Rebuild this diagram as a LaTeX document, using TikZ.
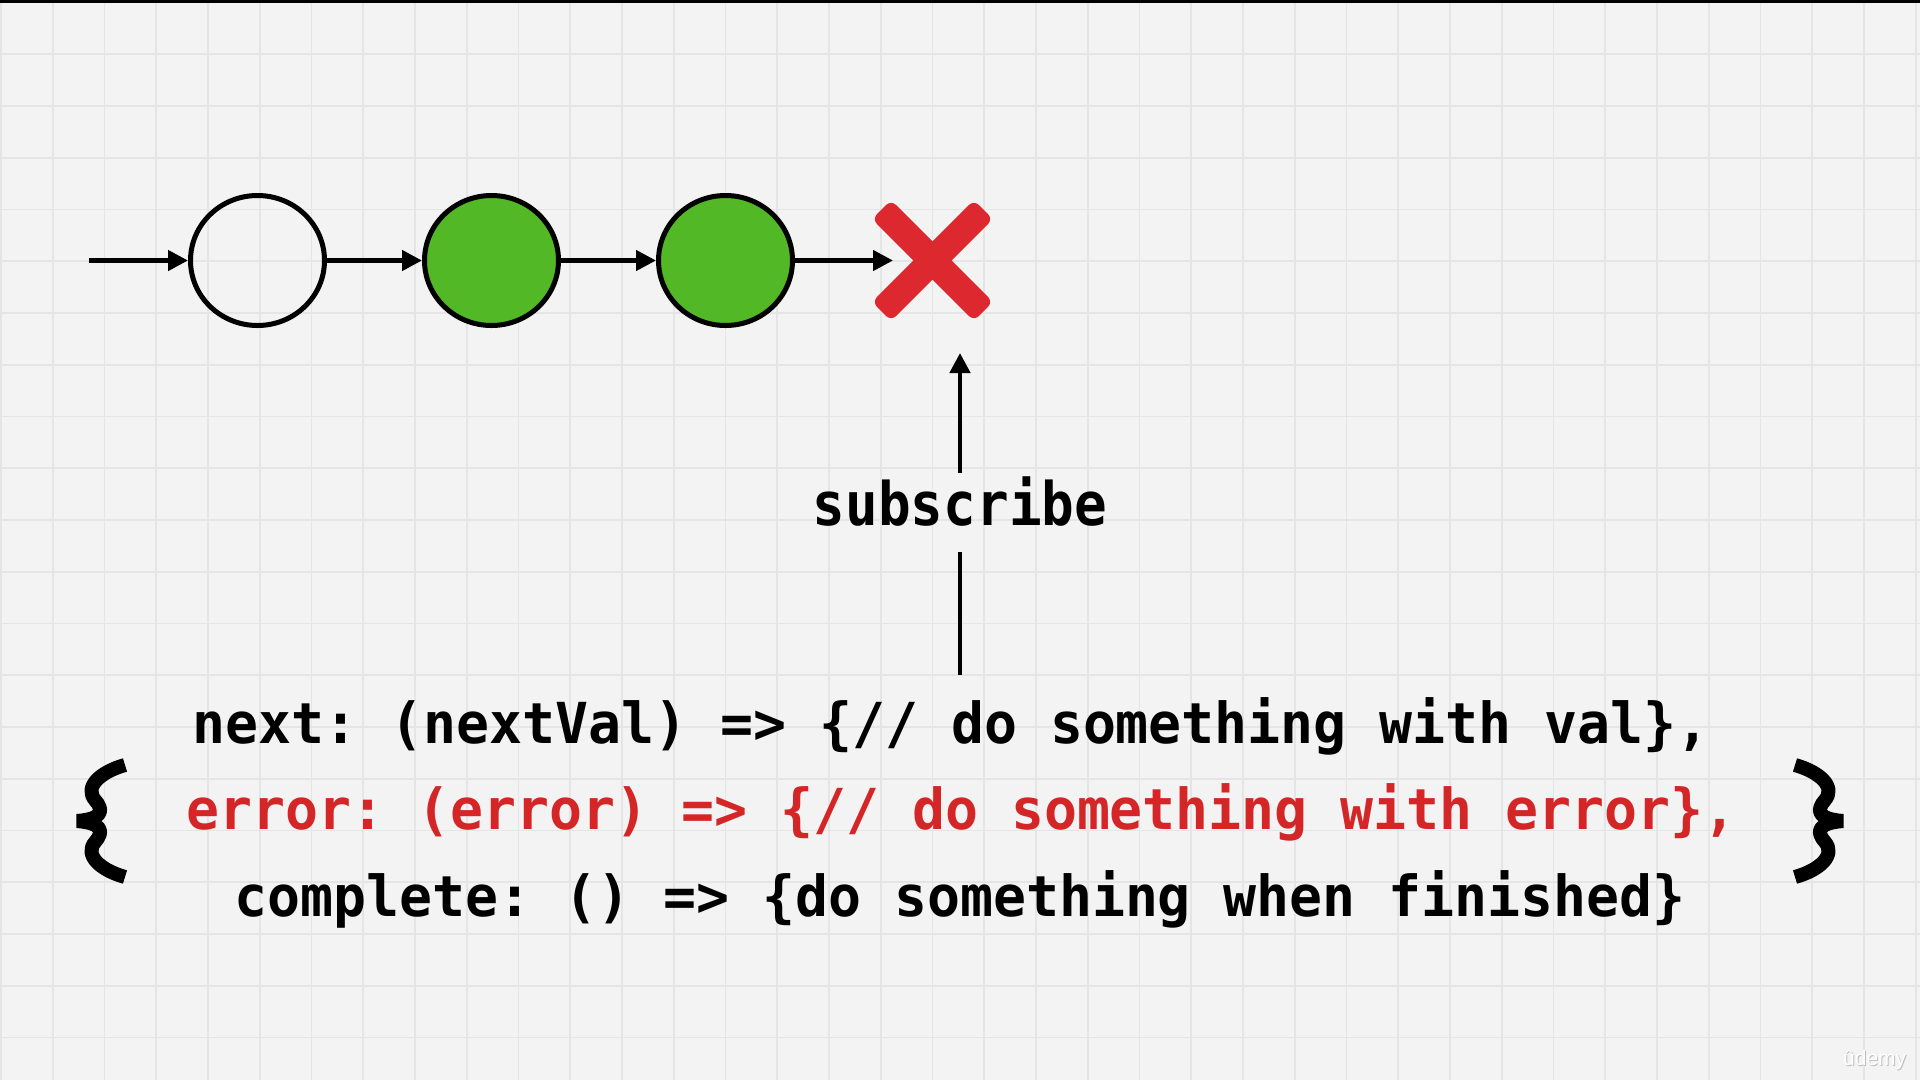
\documentclass[tikz,border=0pt]{standalone}
\usepackage{fontspec}
\usetikzlibrary{arrows.meta,shapes.geometric}

% Monospaced code face, slightly condensed
\newfontfamily\codefont{DejaVu Sans Mono}[FakeStretch=0.97]
\newfontfamily\labelfont{DejaVu Sans Mono}[FakeStretch=0.905]
\newfontfamily\logofont{Liberation Sans}
\frenchspacing

\definecolor{paper}{RGB}{243,243,243}
\definecolor{gridgray}{RGB}{229,229,229}
\definecolor{marblegreen}{RGB}{82,184,38}
\definecolor{stopred}{RGB}{220,40,46}
\definecolor{errtext}{RGB}{212,38,38}
\definecolor{logoshade}{RGB}{190,190,190}

\tikzset{
  wavybrace/.pic={
    \draw[line width=14pt, line cap=butt, line join=bevel]
      (125,765) .. controls (100,772) and (84,787) .. (95,800)
      .. controls (104,810) and (103,819) .. (77,821)
      .. controls (103,823) and (104,832) .. (95,842)
      .. controls (84,855) and (100,870) .. (125,877);
  }
}

\begin{document}
\frenchspacing
\begin{tikzpicture}[x=1pt, y=-1pt,
  gridline/.style={draw=gridgray, line width=1.6pt},
  flow/.style={line width=4.5pt, -{Triangle[length=20pt,width=20pt]}},
  stem/.style={line width=4.5pt},
  marble/.style={ellipse, draw=black, line width=5pt,
    minimum width=134pt, minimum height=130pt, inner sep=0pt},
  codeline/.style={anchor=base west, inner sep=0pt,
    font=\codefont\bfseries\fontsize{56.5}{60}\selectfont},
  sublabel/.style={anchor=base, inner xsep=0pt, inner ysep=6pt,
    text height=46pt, text depth=21pt,
    font=\labelfont\bfseries\fontsize{60}{64}\selectfont},
  xbar/.style={fill=stopred, rounded corners=7pt}
]
% canvas and grid
\useasboundingbox (0,0) rectangle (1920,1080);
\fill[paper] (0,0) rectangle (1920,1080);
\foreach \i in {0,...,37} {
  \draw[gridline] ({1+\i*51.75},0) -- ({1+\i*51.75},1080);
}
\foreach \j in {0,...,20} {
  \draw[gridline] (0,{2.5+\j*51.75}) -- (1920,{2.5+\j*51.75});
}
\fill[black] (0,0) rectangle (1920,2.5);

% stream of values
\coordinate (start) at (89,260.5);
\node[marble] (o1) at (257.5,260.5) {};
\node[marble, fill=marblegreen] (o2) at (491.5,260.5) {};
\node[marble, fill=marblegreen] (o3) at (725.5,260.5) {};
\node[circle, minimum size=79pt, inner sep=0pt, outer sep=0pt] (err) at (932.5,260.5) {};

% error cross
\fill[xbar] ([shift={(60.5,41.4)}]err.center) -- ([shift={(41.4,60.5)}]err.center)
  -- ([shift={(-60.5,-41.4)}]err.center) -- ([shift={(-41.4,-60.5)}]err.center) -- cycle;
\fill[xbar] ([shift={(60.5,-41.4)}]err.center) -- ([shift={(41.4,-60.5)}]err.center)
  -- ([shift={(-60.5,41.4)}]err.center) -- ([shift={(-41.4,60.5)}]err.center) -- cycle;

\draw[flow] (start) -- (o1);
\draw[flow] (o1) -- (o2);
\draw[flow] (o2) -- (o3);
\draw[flow] (o3) -- (err);

% subscription
\node[sublabel] (sub) at (960,525) {subscribe};
\coordinate (errtip) at (960,353);
\coordinate (codetop) at (960,675);
\draw[stem] (codetop) -- (sub.south);
\draw[flow] (sub.north) -- (errtip);

% observer object
\node[codeline] (nextline) at (192,743)
  {next: (nextVal) => \{// do something with val\},};
\node[codeline, text=errtext] (errline) at (186,829.5)
  {error: (error) => \{// do something with error\},};
\node[codeline] (doneline) at (234,916)
  {complete: () => \{do something when finished\}};

\pic at (0,0) {wavybrace};
\pic[xscale=-1] at (1920,0) {wavybrace};

% watermark
\node[anchor=base west, inner sep=0pt, text=logoshade, font=\logofont\fontsize{21}{21}\selectfont] (logoshadow) at (1844,1066) {ûdemy};
\node[anchor=base west, inner sep=0pt, text=white, font=\logofont\fontsize{21}{21}\selectfont] (logo) at (1843,1065) {ûdemy};
\end{tikzpicture}
\end{document}
